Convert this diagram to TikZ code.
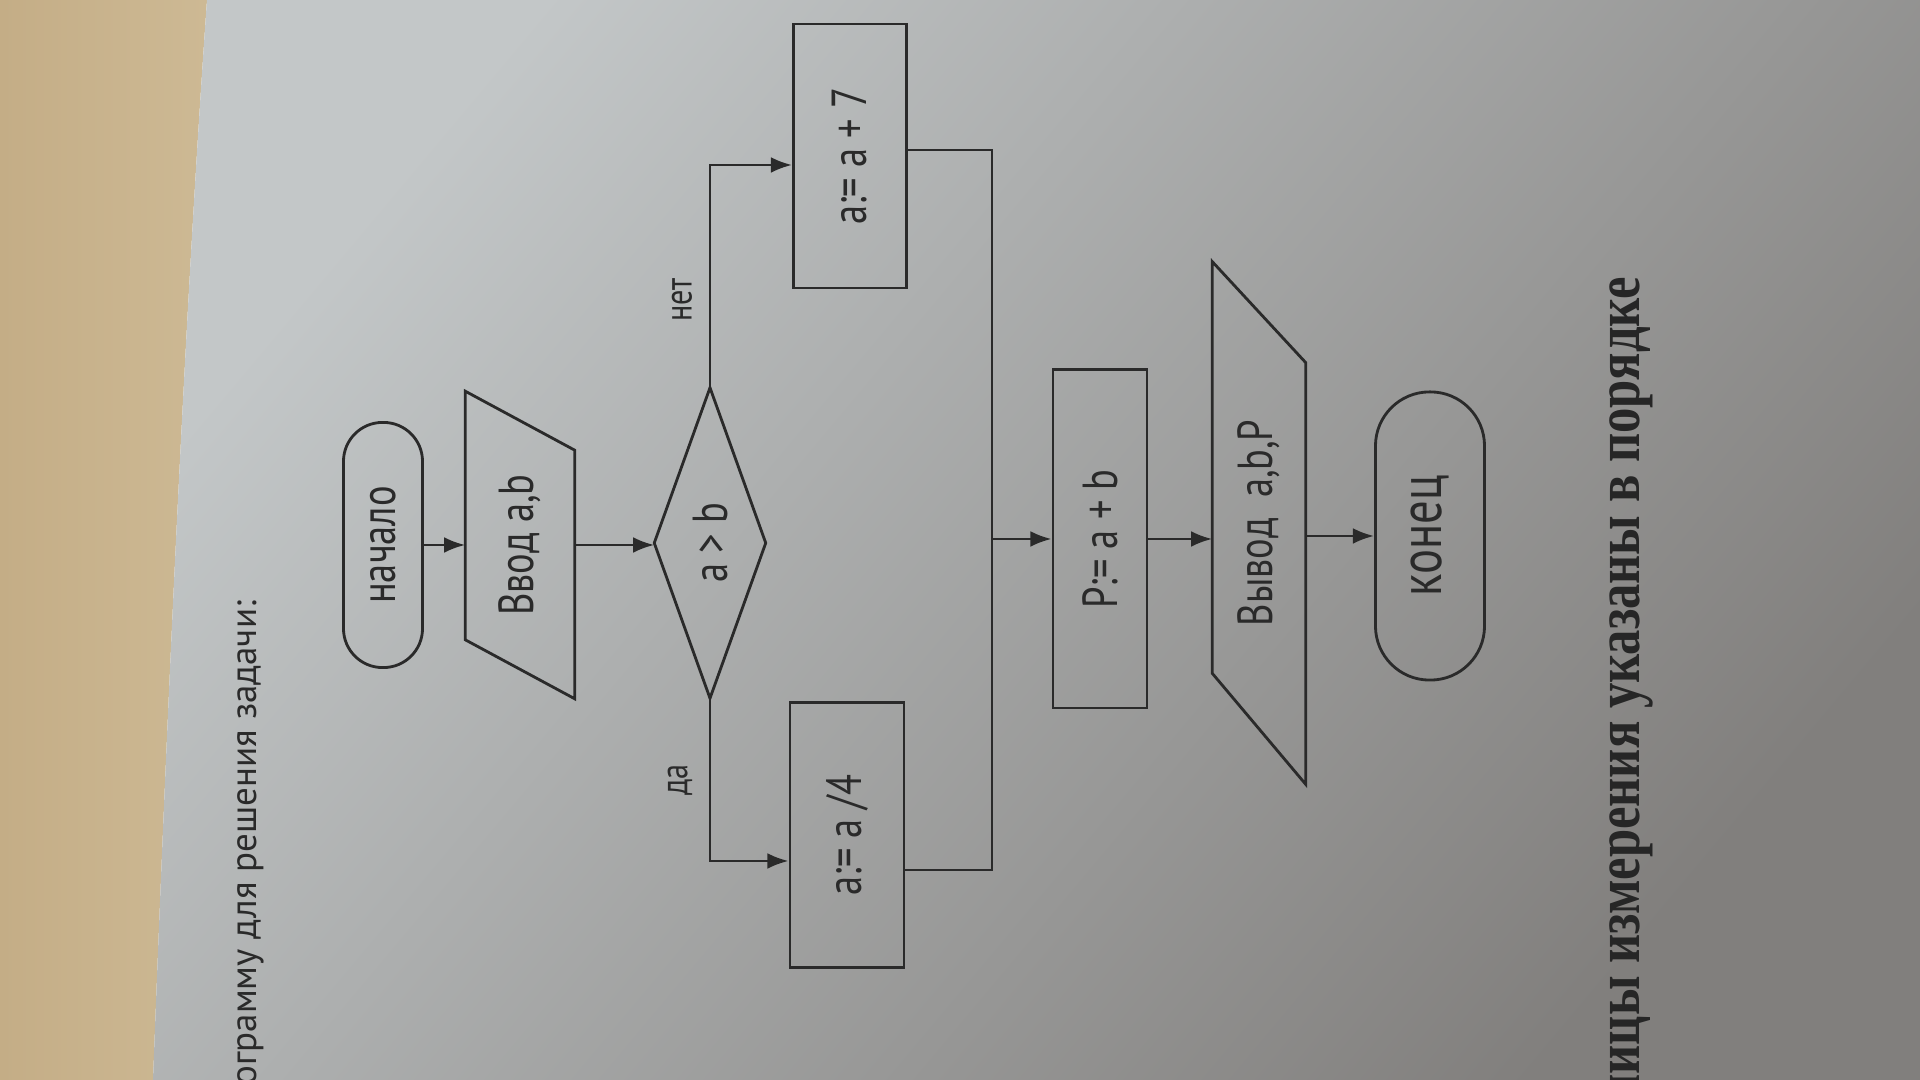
\documentclass[tikz,border=0pt]{standalone}
\usepackage{fontspec}
\setmainfont{PT Sans}
\newfontfamily\serifbook{Liberation Serif}
\usetikzlibrary{arrows.meta,calc}
\definecolor{ink}{HTML}{2A2A2A}
\definecolor{woodA}{HTML}{C4AD86}
\definecolor{woodB}{HTML}{CDB994}
\definecolor{paperA}{HTML}{C3C7C8}
\definecolor{paperB}{HTML}{817F7D}
\newcommand\vtxt[1]{\rotatebox{90}{\scalebox{0.78}[1]{#1}}}
\tikzset{
  flow/.style={draw=ink, line width=0.8pt},
  termbox/.style={flow, rectangle, inner sep=0pt, text=ink, font=\fontsize{14}{16}\selectfont},
  procbox/.style={flow, rectangle, inner sep=0pt, text=ink, font=\fontsize{14}{16}\selectfont},
  ghost/.style={rectangle, inner sep=0pt, text=ink, font=\fontsize{14}{16}\selectfont},
  conn/.style={draw=ink, line width=0.8pt},
  arr/.style={conn, -{Latex[length=6pt,width=4.5pt]}},
  lbl/.style={text=ink, inner sep=0pt, font=\fontsize{11}{13}\selectfont}
}
\begin{document}
\begin{tikzpicture}[x=0.01cm,y=-0.01cm]
\useasboundingbox (0,0) rectangle (1920,1080);
% background
\shade[left color=woodA, right color=woodB] (0,0) -- (207,0) .. controls (195,170) and (175,500) .. (153,1080) -- (0,1080) -- cycle;
\shade[top color=paperA, bottom color=paperB, shading angle=50]
  (207,0) -- (1920,0) -- (1920,1080) -- (153,1080) .. controls (175,500) and (195,170) .. (207,0) -- cycle;

% header and footer text
\node[anchor=north, inner sep=0pt, text=ink, font=\fontsize{10.5}{12}\selectfont] (title) at (251,600)
  {\rotatebox{90}{ограмму для решения задачи:}};
\node[anchor=north, inner sep=0pt, text=black!85, font=\serifbook\bfseries\fontsize{18}{20}\selectfont] (foot) at (1631,276)
  {\rotatebox{90}{\scalebox{0.8}[1]{ницы измерения указаны в порядке}}};

% nodes
\node[termbox, minimum width=0.79cm, minimum height=2.45cm, rounded corners=0.39cm] (start) at (383,545) {\vtxt{начало}};
\node[ghost, minimum width=1.08cm, minimum height=3.06cm] (in) at (520,545) {\vtxt{Ввод a,b}};
\draw[flow] (in.north west) -- ($(in.north east)+(0,59)$) -- (in.south east) -- ($(in.south west)+(0,-59)$) -- cycle;
\node[ghost, minimum width=1.10cm, minimum height=3.09cm] (dec) at (710,543) {\vtxt{a > b}};
\draw[flow] (dec.west) -- (dec.north) -- (dec.east) -- (dec.south) -- cycle;
\node[procbox, minimum width=1.13cm, minimum height=2.64cm] (a7) at (850,156) {\vtxt{a:= a + 7}};
\node[procbox, minimum width=1.14cm, minimum height=2.65cm] (a4) at (847,835) {\vtxt{a:= a /4}};
\node[procbox, minimum width=0.94cm, minimum height=3.38cm] (p) at (1100,539) {\vtxt{P:= a + b}};
\node[ghost, minimum width=0.92cm, minimum height=5.21cm] (out) at (1259,523) {\vtxt{Вывод\ \ a,b,P}};
\draw[flow] (out.north west) -- ($(out.north east)+(0,101)$) -- (out.south east) -- ($(out.south west)+(0,-111)$) -- cycle;
\node[termbox, minimum width=1.09cm, minimum height=2.88cm, rounded corners=0.54cm, font=\fontsize{17}{19}\selectfont] (end) at (1430,536) {\vtxt{конец}};

% branch labels
\node[lbl] (no) at (682,300) {\vtxt{нет}};
\node[lbl] (yes) at (680,780) {\vtxt{да}};

% merge coordinates
\coordinate (m1) at (992,150);
\coordinate (m2) at (992,870);
\coordinate (mj) at (992,539);

% connectors
\draw[arr] (start.east) -- (in.west);
\draw[arr] (in.east) -- (in.east -| dec.west);
\draw[arr] (dec.north) |- ($(a7.west)+(0,9)$);
\draw[arr] (dec.south) |- ($(a4.west)+(0,26)$);
\draw[conn] ($(a7.east)+(0,-6)$) -- (m1) -- (m2) -- ($(a4.east)+(0,35)$);
\draw[arr] (mj) -- (mj -| p.west);
\draw[arr] (p.east) -- (p.east -| out.west);
\draw[arr] (end.west -| out.east) -- (end.west);
\end{tikzpicture}
\end{document}
